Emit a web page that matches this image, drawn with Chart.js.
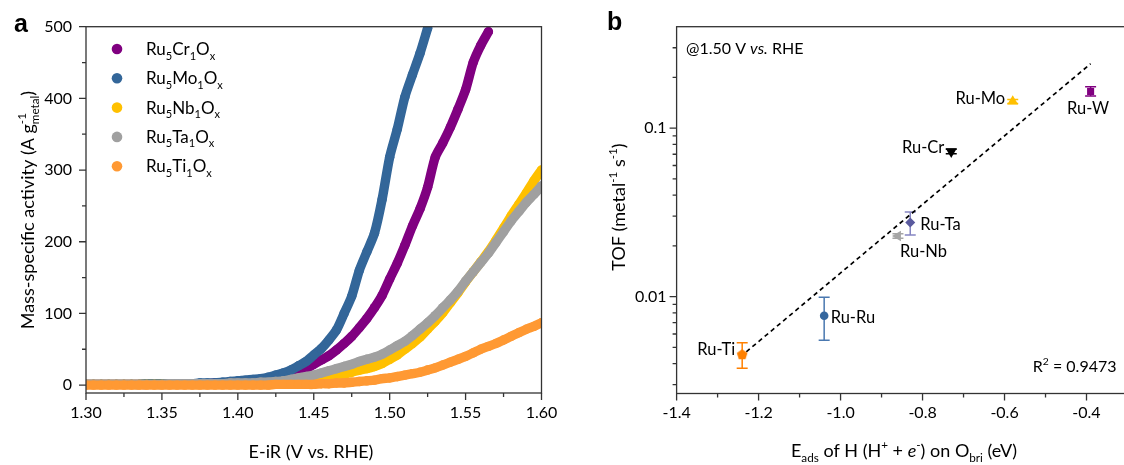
<!DOCTYPE html>
<html>
<head>
<meta charset="utf-8">
<script src="https://cdn.jsdelivr.net/npm/chart.js@4.4.1/dist/chart.umd.min.js"></script>
<style>
  html, body { margin: 0; padding: 0; background: #fff; overflow: hidden; }
  #wrap { position: relative; width: 1124px; height: 465px; overflow: hidden; }
  .panel { position: absolute; top: 0; }
  #panelA { left: 0; }
  #panelB { left: 562px; }
</style>
</head>
<body>
<div id="wrap">
  <div class="panel" id="panelA"><canvas id="chartA" width="562" height="465"></canvas></div>
  <div class="panel" id="panelB"><canvas id="chartB" width="572" height="465"></canvas></div>
</div>
<script>
const FONT = 'Lato, "Open Sans", sans-serif';

// ---- panel a: mass-specific activity vs. E-iR ----
const potential = [
  1.300, 1.305, 1.310, 1.315, 1.320, 1.325, 1.330, 1.335, 1.340, 1.345,
  1.350, 1.355, 1.360, 1.365, 1.370, 1.375, 1.380, 1.385, 1.390, 1.395,
  1.400, 1.405, 1.410, 1.415, 1.420, 1.425, 1.430, 1.435, 1.440, 1.445,
  1.450, 1.455, 1.460, 1.465, 1.470, 1.475, 1.480, 1.485, 1.490, 1.495,
  1.500, 1.505, 1.510, 1.515, 1.520, 1.525, 1.530, 1.535, 1.540, 1.545,
  1.550, 1.555, 1.560, 1.565, 1.570, 1.575, 1.580, 1.585, 1.590, 1.595,
  1.600
];
const activityCr = [
  1, 1, 1, 1, 1, 1, 1, 1, 1, 2,
  2, 2, 2, 2, 2, 2, 2, 3, 3, 4,
  4, 5, 6, 7, 8, 9, 10, 12, 17, 22,
  29, 35, 41, 49, 58, 68, 80, 93, 108, 125,
  148, 170, 195, 222, 246, 276, 318, 338, 360, 385,
  412, 450, 474, 493, null, null, null, null, null, null,
  null
];
const activityMo = [
  1, 1, 1, 1, 1, 1, 1, 1, 2, 2,
  2, 2, 2, 2, 2, 3, 3, 3, 4, 5,
  6, 7, 8, 9, 11, 14, 17, 21, 27, 33,
  42, 51, 63, 77, 100, 124, 160, 186, 212, 259,
  318, 357, 402, 433, 463, 498, null, null, null, null,
  null, null, null, null, null, null, null, null, null, null,
  null
];
const activityNb = [
  1, 1, 1, 1, 1, 1, 1, 1, 1, 1,
  1, 1, 1, 1, 1, 1, 2, 2, 2, 2,
  2, 2, 2, 2, 2, 3, 3, 3, 3, 4,
  5, 7, 9, 12, 15, 18, 21, 23, 26, 30,
  36, 42, 50, 58, 67, 78, 89, 101, 115, 129,
  144, 158, 172, 186, 202, 219, 236, 252, 268, 285,
  300
];
const activityTa = [
  1, 1, 1, 1, 1, 1, 1, 1, 1, 1,
  1, 2, 2, 2, 2, 2, 2, 2, 2, 3,
  3, 3, 3, 4, 4, 5, 6, 8, 10, 12,
  14, 17, 20, 23, 26, 29, 33, 36, 39, 43,
  49, 55, 61, 69, 78, 87, 97, 108, 119, 131,
  145, 158, 171, 184, 199, 214, 229, 242, 255, 266,
  278
];
const activityTi = [
  0, 0, 0, 0, 0, 0, 0, 0, 0, 0,
  0, 0, 0, 0, 0, 0, 0, 0, 0, 0,
  0, 0, 0, 0, 0, 1, 1, 1, 1, 1,
  1, 2, 2, 3, 3, 4, 5, 6, 7, 9,
  10, 12, 14, 16, 18, 21, 24, 28, 32, 36,
  40, 45, 50, 54, 58, 63, 68, 73, 78, 82,
  87
];
const dopants = ['Cr', 'Mo', 'Nb', 'Ta', 'Ti'];
const activities = [activityCr, activityMo, activityNb, activityTa, activityTi];
const curveColors = ['#800080', '#336699', '#FFC000', '#A0A0A0', '#FF9933'];

const xTicksA = [1.30, 1.35, 1.40, 1.45, 1.50, 1.55, 1.60];
const xMinorA = [1.325, 1.375, 1.425, 1.475, 1.525, 1.575];
const yTicksA = [0, 100, 200, 300, 400, 500];
const yMinorA = [50, 150, 250, 350, 450];

// ---- panel b: TOF vs. H adsorption energy on bridge O ----
const pairs = ['Ru-Ti', 'Ru-Ru', 'Ru-Nb', 'Ru-Ta', 'Ru-Cr', 'Ru-Mo', 'Ru-W'];
const eAds = [-1.24, -1.04, -0.86, -0.83, -0.73, -0.58, -0.39];
const tof = [0.00455, 0.0077, 0.0229, 0.0275, 0.0726, 0.144, 0.165];
const tofLow = [0.00376, 0.0055, 0.0222, 0.0232, 0.0705, 0.140, 0.155];
const tofHigh = [0.00533, 0.0099, 0.0236, 0.0318, 0.0750, 0.148, 0.176];
const fitE = [-1.23, -0.39];
const fitTof = [0.0047, 0.241];
const rSquared = '0.9473';

const xTicksB = [-1.4, -1.2, -1.0, -0.8, -0.6, -0.4];
const xMinorB = [-1.3, -1.1, -0.9, -0.7, -0.5, -0.3];
const yTicksB = [0.01, 0.1];
const yMinorB = [0.003, 0.004, 0.005, 0.006, 0.007, 0.008, 0.009,
                 0.02, 0.03, 0.04, 0.05, 0.06, 0.07, 0.08, 0.09, 0.2, 0.3];

const markerColors = ['#FF8000', '#35679E', '#A6A6A6', '#5A5A9E', '#000000', '#FFC000', '#800080'];
const errorColors = ['#FF8000', '#4A78B0', '#A6A6A6', '#8585C2', '#000000', '#FFC000', '#800080'];

// text with sub/superscripts: parts = [[text, kind]], kind '', 'sub', 'sup', 'it', 'ss' ([sup, sub])
function drawRich(ctx, x, y, parts, size, align) {
  const small = size * 0.65;
  const setFont = (s, italic) => { ctx.font = (italic ? 'italic ' : '') + s + 'px ' + FONT; };
  const widths = parts.map(([t, k]) => {
    if (k === 'ss') {
      setFont(small);
      return Math.max(ctx.measureText(t[0]).width, ctx.measureText(t[1]).width);
    }
    setFont(k === 'sub' || k === 'sup' ? small : size, k === 'it');
    return ctx.measureText(t).width;
  });
  const total = widths.reduce((a, b) => a + b, 0);
  let cx = align === 'center' ? x - total / 2 : align === 'right' ? x - total : x;
  ctx.textAlign = 'left';
  ctx.textBaseline = 'alphabetic';
  parts.forEach(([t, k], i) => {
    if (k === 'ss') {
      setFont(small);
      ctx.fillText(t[0], cx, y - size * 0.42);
      ctx.fillText(t[1], cx, y + size * 0.27);
    } else if (k === 'sub') {
      setFont(small);
      ctx.fillText(t, cx, y + size * 0.27);
    } else if (k === 'sup') {
      setFont(small);
      ctx.fillText(t, cx, y - size * 0.42);
    } else {
      setFont(size, k === 'it');
      ctx.fillText(t, cx, y);
    }
    cx += widths[i];
  });
}

function drawRotated(ctx, x, y, parts, size) {
  ctx.save();
  ctx.translate(x, y);
  ctx.rotate(-Math.PI / 2);
  drawRich(ctx, 0, 0, parts, size, 'center');
  ctx.restore();
}

// box frame plus outward major/minor tick marks
function makeFrame(xMajor, xMinor, yMajor, yMinor) {
  return {
    id: 'frame',
    afterDatasetsDraw(chart) {
      const { ctx, chartArea: a, scales: { x, y } } = chart;
      ctx.save();
      ctx.strokeStyle = '#333';
      ctx.lineWidth = 1.3;
      ctx.strokeRect(a.left, a.top, a.right - a.left, a.bottom - a.top);
      ctx.beginPath();
      const xm = (vals, len) => vals.forEach(v => {
        const p = x.getPixelForValue(v);
        ctx.moveTo(p, a.bottom); ctx.lineTo(p, a.bottom + len);
      });
      const ym = (vals, len) => vals.forEach(v => {
        const p = y.getPixelForValue(v);
        ctx.moveTo(a.left, p); ctx.lineTo(a.left - len, p);
      });
      xm(xMajor, 7); xm(xMinor, 4);
      ym(yMajor, 7); ym(yMinor, 4);
      ctx.stroke();
      ctx.restore();
    }
  };
}

const tickFont = { family: FONT, size: 16 };

const legendA = {
  id: 'legendA',
  afterDraw(chart) {
    const ctx = chart.ctx;
    ctx.save();
    dopants.forEach((d, i) => {
      const cy = 49 + i * 29.3;
      ctx.fillStyle = curveColors[i];
      ctx.beginPath();
      ctx.arc(117, cy, 5.3, 0, Math.PI * 2);
      ctx.fill();
      ctx.fillStyle = '#000';
      drawRich(ctx, 146, cy + 6, [['Ru', ''], ['5', 'sub'], [d, ''], ['1', 'sub'], ['O', ''], ['x', 'sub']], 17, 'left');
    });
    ctx.fillStyle = '#000';
    ctx.font = 'bold 25px "Liberation Sans", Arial, sans-serif';
    ctx.textAlign = 'left';
    ctx.fillText('a', 14, 31.5);
    drawRich(ctx, 311, 458, [['E-iR (V vs. RHE)', '']], 18, 'center');
    drawRotated(ctx, 34, 210, [['Mass-specific activity (A g', ''], [['-1', 'metal'], 'ss'], [')', '']], 18);
    ctx.restore();
  }
};

new Chart(document.getElementById('chartA'), {
  type: 'line',
  data: {
    datasets: activities.map((vals, i) => ({
      label: 'Ru5' + dopants[i] + '1Ox',
      data: vals.map((v, j) => ({ x: potential[j], y: v })).filter(p => p.y !== null),
      borderColor: curveColors[i],
      backgroundColor: curveColors[i],
      borderWidth: 9.4,
      borderCapStyle: 'round',
      borderJoinStyle: 'round',
      tension: 0.25,
      pointRadius: 4.7,
      pointBorderWidth: 0,
      pointBackgroundColor: curveColors[i],
      order: activities.length - 1 - i,
      clip: 0
    }))
  },
  options: {
    responsive: false,
    animation: false,
    events: [],
    layout: { padding: { left: 0, right: 20.5, top: 26.7, bottom: 0 } },
    plugins: { legend: { display: false }, tooltip: { enabled: false } },
    scales: {
      x: {
        type: 'linear', min: 1.30, max: 1.60,
        afterBuildTicks: s => { s.ticks = xTicksA.map(v => ({ value: v })); },
        afterFit: s => { s.height = 72; s.paddingLeft = 0; s.paddingRight = 0; },
        grid: { display: false, drawTicks: false }, border: { display: false },
        ticks: { color: '#000', font: tickFont, padding: 10, maxRotation: 0, autoSkip: false,
                 callback: v => v.toFixed(2) }
      },
      y: {
        type: 'linear', min: -11, max: 500,
        afterBuildTicks: s => { s.ticks = yTicksA.map(v => ({ value: v })); },
        afterFit: s => { s.width = 86; s.paddingTop = 0; s.paddingBottom = 0; },
        grid: { display: false, drawTicks: false }, border: { display: false },
        ticks: { color: '#000', font: tickFont, padding: 14, autoSkip: false, callback: v => String(v) }
      }
    }
  },
  plugins: [makeFrame(xTicksA, xMinorA, yTicksA, yMinorA), legendA]
});

// pentagon marker for Ru-Ti
function pentagon(r, color) {
  const c = document.createElement('canvas');
  c.width = c.height = Math.ceil(2 * r + 2);
  const g = c.getContext('2d');
  const m = c.width / 2;
  g.beginPath();
  for (let i = 0; i < 5; i++) {
    const ang = -Math.PI / 2 + i * 2 * Math.PI / 5;
    g.lineTo(m + r * Math.cos(ang), m + r * Math.sin(ang) + 0.5);
  }
  g.closePath();
  g.fillStyle = color;
  g.fill();
  return c;
}

// label placement next to each marker: [dx, dy, align]
const labelPlace = {
  'Ru-Ti': [-7, 1, 'right'],
  'Ru-Ru': [6.5, 7, 'left'],
  'Ru-Nb': [2, 21.5, 'left'],
  'Ru-Ta': [10, 7, 'left'],
  'Ru-Cr': [-7, 1.5, 'right'],
  'Ru-Mo': [-7.5, 2.5, 'right'],
  'Ru-W': [-2.5, 22.5, 'center']
};

const errorBars = {
  id: 'errorBars',
  beforeDatasetsDraw(chart) {
    const { ctx, scales: { x, y } } = chart;
    ctx.save();
    ctx.lineWidth = 1.5;
    eAds.forEach((e, i) => {
      const px = x.getPixelForValue(e);
      const lo = y.getPixelForValue(tofLow[i]);
      const hi = y.getPixelForValue(tofHigh[i]);
      ctx.strokeStyle = errorColors[i];
      ctx.beginPath();
      ctx.moveTo(px, lo); ctx.lineTo(px, hi);
      ctx.moveTo(px - 5.5, lo); ctx.lineTo(px + 5.5, lo);
      ctx.moveTo(px - 5.5, hi); ctx.lineTo(px + 5.5, hi);
      ctx.stroke();
    });
    ctx.restore();
  },
  afterDraw(chart) {
    const { ctx, chartArea: a, scales: { x, y } } = chart;
    ctx.save();
    ctx.fillStyle = '#000';
    pairs.forEach((p, i) => {
      const [dx, dy, align] = labelPlace[p];
      drawRich(ctx, x.getPixelForValue(eAds[i]) + dx, y.getPixelForValue(tof[i]) + dy, [[p, '']], 16.5, align);
    });
    drawRich(ctx, a.left + 9.5, 54, [['@1.50 V ', ''], ['vs.', 'it'], [' RHE', '']], 16, 'left');
    drawRich(ctx, 554.5, 372, [['R', ''], ['2', 'sup'], [' = ' + rSquared, '']], 16, 'right');
    ctx.font = 'bold 25px "Liberation Sans", Arial, sans-serif';
    ctx.textAlign = 'left';
    ctx.fillText('b', 45, 30);
    drawRich(ctx, 342, 457, [['E', ''], ['ads', 'sub'], [' of H (H', ''], ['+', 'sup'], [' + ', ''], ['e', 'it'],
      ['-', 'sup'], [') on O', ''], ['bri', 'sub'], [' (eV)', '']], 18, 'center');
    drawRotated(ctx, 63, 207, [['TOF (metal', ''], ['-1', 'sup'], [' s', ''], ['-1', 'sup'], [')', '']], 18);
    ctx.restore();
  }
};

new Chart(document.getElementById('chartB'), {
  type: 'scatter',
  data: {
    datasets: [
      {
        label: 'TOF',
        data: eAds.map((e, i) => ({ x: e, y: tof[i] })),
        pointStyle: [pentagon(5.6, markerColors[0]), 'circle', 'triangle', 'rectRot', 'triangle', 'triangle', 'rect'],
        pointRotation: [0, 0, 270, 0, 180, 0, 0],
        pointRadius: [5.6, 4.3, 6, 5, 6.5, 6.3, 5],
        pointBackgroundColor: markerColors,
        pointBorderColor: markerColors,
        pointBorderWidth: 0,
        order: 0,
        clip: false
      },
      {
        label: 'fit',
        data: fitE.map((e, i) => ({ x: e, y: fitTof[i] })),
        showLine: true,
        borderColor: '#000',
        borderWidth: 1.7,
        borderDash: [4.5, 3.5],
        pointRadius: 0,
        order: 1
      }
    ]
  },
  options: {
    responsive: false,
    animation: false,
    events: [],
    layout: { padding: { left: 0, right: 2.1, top: 26.7, bottom: 0 } },
    plugins: { legend: { display: false }, tooltip: { enabled: false } },
    scales: {
      x: {
        type: 'linear', min: -1.4, max: -0.3,
        afterBuildTicks: s => { s.ticks = xTicksB.map(v => ({ value: v })); },
        afterFit: s => { s.height = 71.5; s.paddingLeft = 0; s.paddingRight = 0; },
        grid: { display: false, drawTicks: false }, border: { display: false },
        ticks: { color: '#000', font: tickFont, padding: 10, maxRotation: 0, autoSkip: false,
                 callback: v => v.toFixed(1) }
      },
      y: {
        type: 'logarithmic', min: 0.00266, max: 0.4,
        afterBuildTicks: s => { s.ticks = yTicksB.map(v => ({ value: v })); },
        afterFit: s => { s.width = 114.6; s.paddingTop = 0; s.paddingBottom = 0; },
        grid: { display: false, drawTicks: false }, border: { display: false },
        ticks: { color: '#000', font: tickFont, padding: 10, autoSkip: false, callback: v => String(v) }
      }
    }
  },
  plugins: [makeFrame(xTicksB, xMinorB, yTicksB, yMinorB), errorBars]
});
</script>
</body>
</html>
